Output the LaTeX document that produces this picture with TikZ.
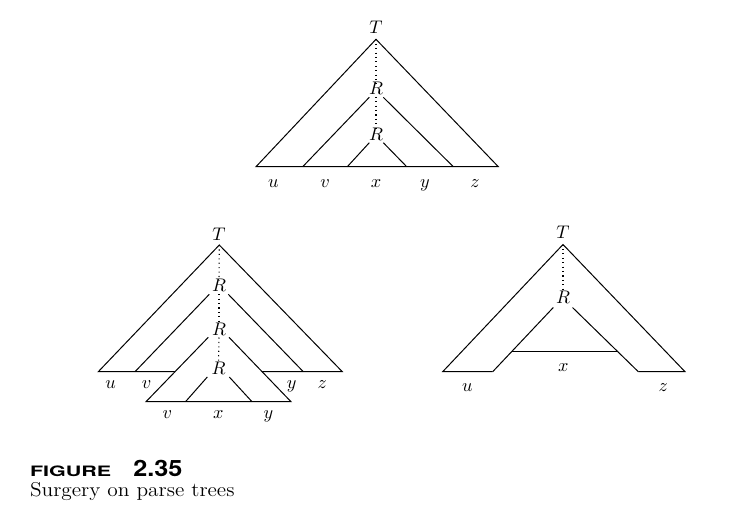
\documentclass[tikz,border=0pt]{standalone}
\usepackage{fontspec}
\usepackage{graphicx}
\newfontfamily\capsans{TeX Gyre Heros}
\usetikzlibrary{calc}
\begin{document}
\begin{tikzpicture}[x=0.6pt,y=-0.6pt,
  edge/.style={line width=0.6pt},
  dots/.style={line width=0.65pt,dotted},
  lab/.style={anchor=base,inner sep=0pt,outer sep=0pt,font=\fontsize{11}{13}\selectfont},
  caption/.style={anchor=base west,inner sep=0pt,outer sep=0pt}]
\useasboundingbox (0,0) rectangle (733,524);

% ---------------- top tree ----------------
\node[lab] (tT) at (376,33.3) {$T$};
\coordinate (tA) at (376,39.3);
\coordinate (tBL) at (256,166.7);
\coordinate (tBR) at (498.3,166.7);
\draw[edge] (tBL) -- (tA) -- (tBR) -- cycle;
\node[lab] (tR1) at (376,94.3) {$R$};
\coordinate (tR1l) at (369.3,97.3);
\coordinate (tR1r) at (383.3,97.3);
\coordinate (tR1bl) at (302.7,166.7);
\coordinate (tR1br) at (453.3,166.7);
\draw[edge] (tR1bl) -- (tR1l);
\draw[edge] (tR1r) -- (tR1br);
\node[lab] (tR2) at (376,140) {$R$};
\coordinate (tR2l) at (369.3,142.7);
\coordinate (tR2r) at (383.3,142.7);
\coordinate (tR2bl) at (347.3,166.7);
\coordinate (tR2br) at (406.7,166.7);
\draw[edge] (tR2bl) -- (tR2l);
\draw[edge] (tR2r) -- (tR2br);
\draw[dots] (tA) -- ([yshift=-1pt]tR1.north);
\draw[dots] ([yshift=-1.5pt]tR1.south) -- ([yshift=-1pt]tR2.north);
\node[lab] (tu) at (273.3,187) {$u$};
\node[lab] (tv) at (325,187) {$v$};
\node[lab] (tx) at (376,187) {$x$};
\node[lab] (ty) at (425,187) {$y$};
\node[lab] (tz) at (475,187) {$z$};

% ---------------- bottom-left tree ----------------
\node[lab] (lT) at (219,240) {$T$};
\coordinate (lA) at (219.3,245);
\coordinate (lBL) at (98.3,371.7);
\coordinate (lBR) at (342.3,371.7);
\node[lab] (lR1) at (219,291.7) {$R$};
\coordinate (lR1l) at (209.3,294.3);
\coordinate (lR1r) at (228.3,294.3);
\coordinate (lR1bl) at (135,371.7);
\coordinate (lR1br) at (303.3,371.7);
\node[lab] (lR2) at (219,335) {$R$};
\coordinate (lR2l) at (208.3,337.3);
\coordinate (lR2r) at (229,337.3);
\coordinate (lR2bl) at (146,401.7);
\coordinate (lR2br) at (291,401.7);
\node[lab] (lR3) at (218.5,374.3) {$R$};
\coordinate (lR3l) at (207.3,377);
\coordinate (lR3r) at (229.3,377);
\coordinate (lR3bl) at (185.5,401.7);
\coordinate (lR3br) at (252,401.7);
\coordinate (lCutL) at (intersection of lBL--lBR and lR2l--lR2bl);
\coordinate (lCutR) at (intersection of lBL--lBR and lR2r--lR2br);
\draw[edge] (lCutL) -- (lBL) -- (lA) -- (lBR) -- (lCutR);
\draw[edge] (lR1bl) -- (lR1l);
\draw[edge] (lR1r) -- (lR1br);
\draw[edge] (lR2l) -- (lR2bl) -- (lR2br) -- (lR2r);
\draw[edge] (lR3bl) -- (lR3l);
\draw[edge] (lR3r) -- (lR3br);
\draw[dots] (lA) -- ([yshift=-1pt]lR1.north);
\draw[dots] ([yshift=-1.5pt]lR1.south) -- ([yshift=-1pt]lR2.north);
\draw[dots] ([yshift=-1.5pt]lR2.south) -- ([yshift=-1pt]lR3.north);
\node[lab] (lu) at (110.7,388.3) {$u$};
\node[lab] (lv) at (146.7,388.3) {$v$};
\node[lab] (ly) at (291.7,388.3) {$y$};
\node[lab] (lz) at (322.3,388.3) {$z$};
\node[lab] (lv2) at (167.3,418) {$v$};
\node[lab] (lx2) at (218.3,418) {$x$};
\node[lab] (ly2) at (268.3,418) {$y$};

% ---------------- bottom-right tree ----------------
\node[lab] (rT) at (563,238.5) {$T$};
\coordinate (rA) at (563,244.5);
\coordinate (rBL) at (442.7,371.7);
\coordinate (rBR) at (685,371.7);
\node[lab] (rR) at (563,303.5) {$R$};
\coordinate (rRl) at (553.3,307.5);
\coordinate (rRr) at (572.5,307.5);
\coordinate (rRbl) at (492.7,371.7);
\coordinate (rRbr) at (638.3,371.7);
\draw[edge] (rRbl) -- (rBL) -- (rA) -- (rBR) -- (rRbr);
\draw[edge] (rRbl) -- (rRl);
\draw[edge] (rRr) -- (rRbr);
\coordinate (rHL) at ($(rRl)!0.68!(rRbl)$);
\coordinate (rHR) at ($(rRr)!0.68!(rRbr)$);
\draw[edge] (rHL) -- (rHR);
\draw[dots] (rA) -- ([yshift=-1pt]rR.north);
\node[lab] (rx) at (563.3,371.7) {$x$};
\node[lab] (ru) at (467.3,391.7) {$u$};
\node[lab] (rz) at (663.3,391.7) {$z$};

% ---------------- caption ----------------
\node[caption] (capA) at (30,476) {\scalebox{1.5}[1]{\capsans\bfseries\fontsize{8.6}{10}\selectfont FIGURE}};
\node[caption] (capB) at (133.3,476) {\scalebox{1.12}[1]{\capsans\bfseries\fontsize{13.5}{15}\selectfont 2.35}};
\node[caption] (capC) at (30,496.7) {\scalebox{1.07}[1]{\fontsize{12}{14}\selectfont Surgery on parse trees}};
\end{tikzpicture}
\end{document}
